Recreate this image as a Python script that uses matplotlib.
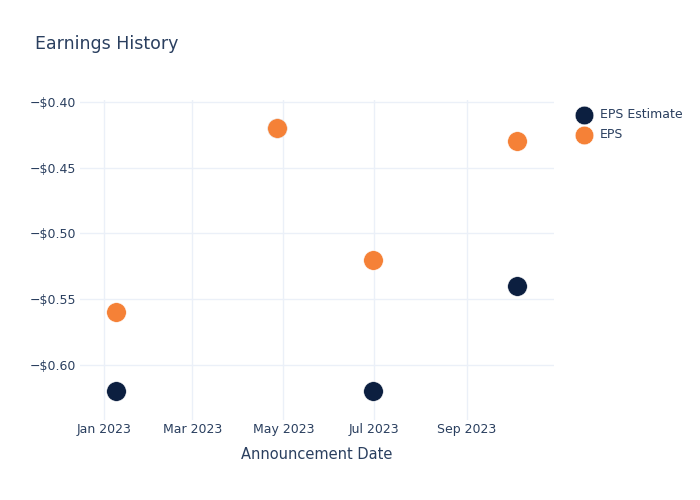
import matplotlib
matplotlib.use('Agg')
import matplotlib.pyplot as plt
import matplotlib.dates as mdates
from matplotlib.ticker import FuncFormatter, FixedLocator
import numpy as np
import pandas as pd

# data
dates = pd.to_datetime(['2023-01-09', '2023-04-27', '2023-06-30', '2023-10-05'])
eps_estimate = [-0.62, -0.42, -0.62, -0.54]
eps_actual = [-0.56, -0.42, -0.52, -0.43]
x_ticks = pd.to_datetime(['2023-01-01', '2023-03-01', '2023-05-01', '2023-07-01', '2023-09-01'])
y_ticks = [-0.60, -0.55, -0.50, -0.45, -0.40]

text_color = '#2a3f5f'
grid_color = '#ebf0f8'
navy = '#0c1f40'
orange = '#f58137'

fig = plt.figure(figsize=(7, 5), dpi=100)
ax = fig.add_axes([80 / 700, 80 / 500, 474 / 700, 320 / 500])

ax.scatter(dates, eps_estimate, s=200, color=navy, label='EPS Estimate',
           zorder=3, clip_on=False, edgecolors='white', linewidths=0.4)
ax.scatter(dates, eps_actual, s=200, color=orange, label='EPS',
           zorder=4, clip_on=False, edgecolors='white', linewidths=0.4)

ax.set_xlim(pd.Timestamp('2022-12-15 14:00'), pd.Timestamp('2023-10-29 12:00'))
ax.set_ylim(-0.6418, -0.3985)

ax.xaxis.set_major_locator(FixedLocator(mdates.date2num(x_ticks)))
ax.xaxis.set_major_formatter(mdates.DateFormatter('%b %Y'))
ax.yaxis.set_major_locator(FixedLocator(y_ticks))
ax.yaxis.set_major_formatter(FuncFormatter(lambda v, p: '\u2212$%.2f' % abs(v)))

for s in ax.spines.values():
    s.set_visible(False)
ax.grid(True, color=grid_color, linewidth=1)
ax.set_axisbelow(True)
ax.tick_params(length=0, labelsize=9, labelcolor=text_color)
ax.tick_params(axis='y', pad=3)
ax.tick_params(axis='x', pad=2)

ax.set_xlabel('Announcement Date', fontsize=10.5, color=text_color, labelpad=8)

fig.text(35 / 700, 1 - 44 / 500, 'Earnings History', fontsize=12.5,
         color=text_color, va='center', ha='left')

fig.legend(loc='upper left', bbox_to_anchor=(566 / 700, 1 - 103 / 500),
           frameon=False, fontsize=9, labelcolor=text_color, markerscale=0.95,
           handletextpad=0.3, labelspacing=0.6, borderaxespad=0)

fig.savefig('out.png', dpi=100)
